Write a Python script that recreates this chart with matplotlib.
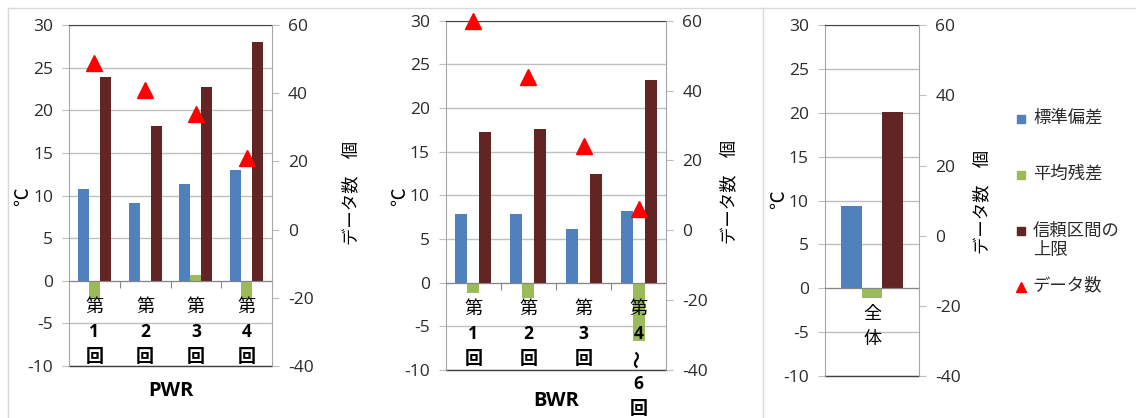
import matplotlib
matplotlib.use("Agg")
import matplotlib.pyplot as plt
from matplotlib.lines import Line2D

plt.rcParams['font.family'] = ['Open Sans', 'Noto Sans CJK JP']
plt.rcParams['axes.unicode_minus'] = False

W, H = 1136, 418

# ---- data -------------------------------------------------------------
series_names = ["標準偏差", "平均残差", "信頼区間の\n上限", "データ数"]

pwr_labels = ["第1回", "第2回", "第3回", "第4回"]
pwr_std = [10.8, 9.1, 11.3, 13.0]
pwr_resid = [-2.1, 0.0, 0.7, -2.0]
pwr_upper = [23.9, 18.1, 22.7, 28.0]
pwr_count = [49, 41, 34, 21]

bwr_labels = ["第1回", "第2回", "第3回", "第4～6回"]
bwr_std = [7.9, 7.9, 6.1, 8.2]
bwr_resid = [-1.2, -1.7, 0.0, -6.7]
bwr_upper = [17.2, 17.6, 12.4, 23.2]
bwr_count = [60, 44, 24, 6]

all_labels = ["全体"]
all_std = [9.4]
all_resid = [-1.1]
all_upper = [20.1]

# ---- style ------------------------------------------------------------
C_STD = '#4F81BD'
C_RESID = '#9BBB59'
C_UPPER = '#632523'
C_COUNT = '#FF0000'
GRID = '#BFBFBF'
TXT = '#2B2B2B'
BAR_W = 0.218

fig = plt.figure(figsize=(W / 100, H / 100), dpi=100)
fig.patch.set_facecolor('white')


def px_axes(left, top, right, bottom):
    return fig.add_axes([left / W, 1 - bottom / H, (right - left) / W, (bottom - top) / H])


def fig_line(x0, y0, x1, y1, color='#D9D9D9'):
    fig.add_artist(Line2D([x0 / W, x1 / W], [1 - y0 / H, 1 - y1 / H],
                          transform=fig.transFigure, color=color, lw=1))


def draw_category(ax, x, text, start_px=26, pitch_px=25):
    for k, ch in enumerate(text):
        off = -(start_px + k * pitch_px) * 0.72
        bold = ch.isdigit() or ch in '回～'
        size = 12.5 if ch.isdigit() else 13
        ax.annotate(ch, xy=(x, 0), xytext=(0, off), textcoords='offset points',
                    ha='center', va='center', fontsize=size, color='black',
                    fontweight='bold' if bold else 'normal',
                    rotation=90 if ch == '～' else 0, annotation_clip=False,
                    zorder=5)


def panel(box, labels, std, resid, upper, count=None, xlabel=None, xlabel_y=None,
          unit_xy=None, count_label_xy=None):
    ax = px_axes(*box)
    n = len(labels)
    xs = [i + 1 for i in range(n)]
    ax.bar([x - BAR_W for x in xs], std, BAR_W, color=C_STD, lw=0)
    ax.bar(xs, resid, BAR_W, color=C_RESID, lw=0)
    ax.bar([x + BAR_W for x in xs], upper, BAR_W, color=C_UPPER, lw=0)

    ax.set_xlim(0.5, n + 0.5)
    ax.set_ylim(-10, 30)
    ax.set_yticks(range(-10, 31, 5))
    ax.yaxis.grid(True, color=GRID, lw=1)
    ax.set_axisbelow(True)
    ax.spines['bottom'].set_position(('data', 0))
    ax.spines['bottom'].set_color('#868686')
    ax.spines['top'].set_color('#404040')
    ax.spines['left'].set_color('#A6A6A6')
    ax.spines['right'].set_visible(False)
    ax.set_xticks([i + 1.5 for i in range(n - 1)])
    ax.set_xticklabels([])
    ax.tick_params(axis='x', direction='out', length=5, color='#868686')
    ax.tick_params(axis='y', direction='out', length=5, color=GRID,
                   labelsize=12.5, labelcolor=TXT, pad=6.5)
    ax.axhline(-10, color='#404040', lw=1, clip_on=False)

    for x, lab in zip(xs, labels):
        draw_category(ax, x, lab)

    tx = ax.twinx()
    tx.set_ylim(-40, 60)
    tx.set_yticks(range(-40, 61, 20))
    for s in ('top', 'bottom', 'left'):
        tx.spines[s].set_visible(False)
    tx.spines['right'].set_color('#A6A6A6')
    tx.tick_params(axis='y', direction='out', length=5, color=GRID,
                   labelsize=12.5, labelcolor=TXT, pad=6.5)
    if count is not None:
        tx.plot(xs, count, ls='none', marker='^', ms=12, color=C_COUNT,
                clip_on=False, zorder=6)

    cx = (box[0] + box[2]) / 2
    if xlabel:
        fig.text(cx / W, 1 - xlabel_y / H, xlabel, ha='center', va='center',
                 fontsize=14.5, fontweight='bold', color='black')
    fig.text(unit_xy[0] / W, 1 - unit_xy[1] / H, '℃', rotation=90,
             ha='center', va='center', fontsize=13.5, color='black')
    fig.text(count_label_xy[0] / W, 1 - count_label_xy[1] / H, 'データ数\u3000個',
             rotation=90, ha='center', va='center', fontsize=12.5, color='black')
    return ax


panel((69, 25, 272, 366), pwr_labels, pwr_std, pwr_resid, pwr_upper, pwr_count,
      xlabel='PWR', xlabel_y=391, unit_xy=(23, 197), count_label_xy=(352, 193))
panel((445.7, 20.7, 666.3, 370), bwr_labels, bwr_std, bwr_resid, bwr_upper, bwr_count,
      xlabel='BWR', xlabel_y=401, unit_xy=(400, 197), count_label_xy=(730, 192))
panel((824.7, 25.3, 919.3, 376), all_labels, all_std, all_resid, all_upper,
      unit_xy=(779, 200), count_label_xy=(983, 202))

# ---- legend -----------------------------------------------------------
leg_x, txt_x = 1021, 1033
handles = [('s', C_STD, 6, 119), ('s', C_RESID, 6, 175), ('s', C_UPPER, 6, 231),
           ('^', C_COUNT, 7.5, 287)]
text_y = [118, 174, 241.5, 286]
for (mk, col, ms, hy), name, ty in zip(handles, series_names, text_y):
    fig.add_artist(Line2D([leg_x / W], [1 - hy / H], transform=fig.transFigure,
                          ls='none', marker=mk, ms=ms, color=col))
    fig.text(txt_x / W, 1 - ty / H, name, ha='left', va='center', fontsize=12.5,
             color=TXT, linespacing=1.25)

# ---- chart frames -----------------------------------------------------
fig_line(8, 8, W, 8)
fig_line(8, 8, 8, H)
fig_line(763, 8, 763, H)

fig.savefig('out.png', dpi=100, facecolor='white')
